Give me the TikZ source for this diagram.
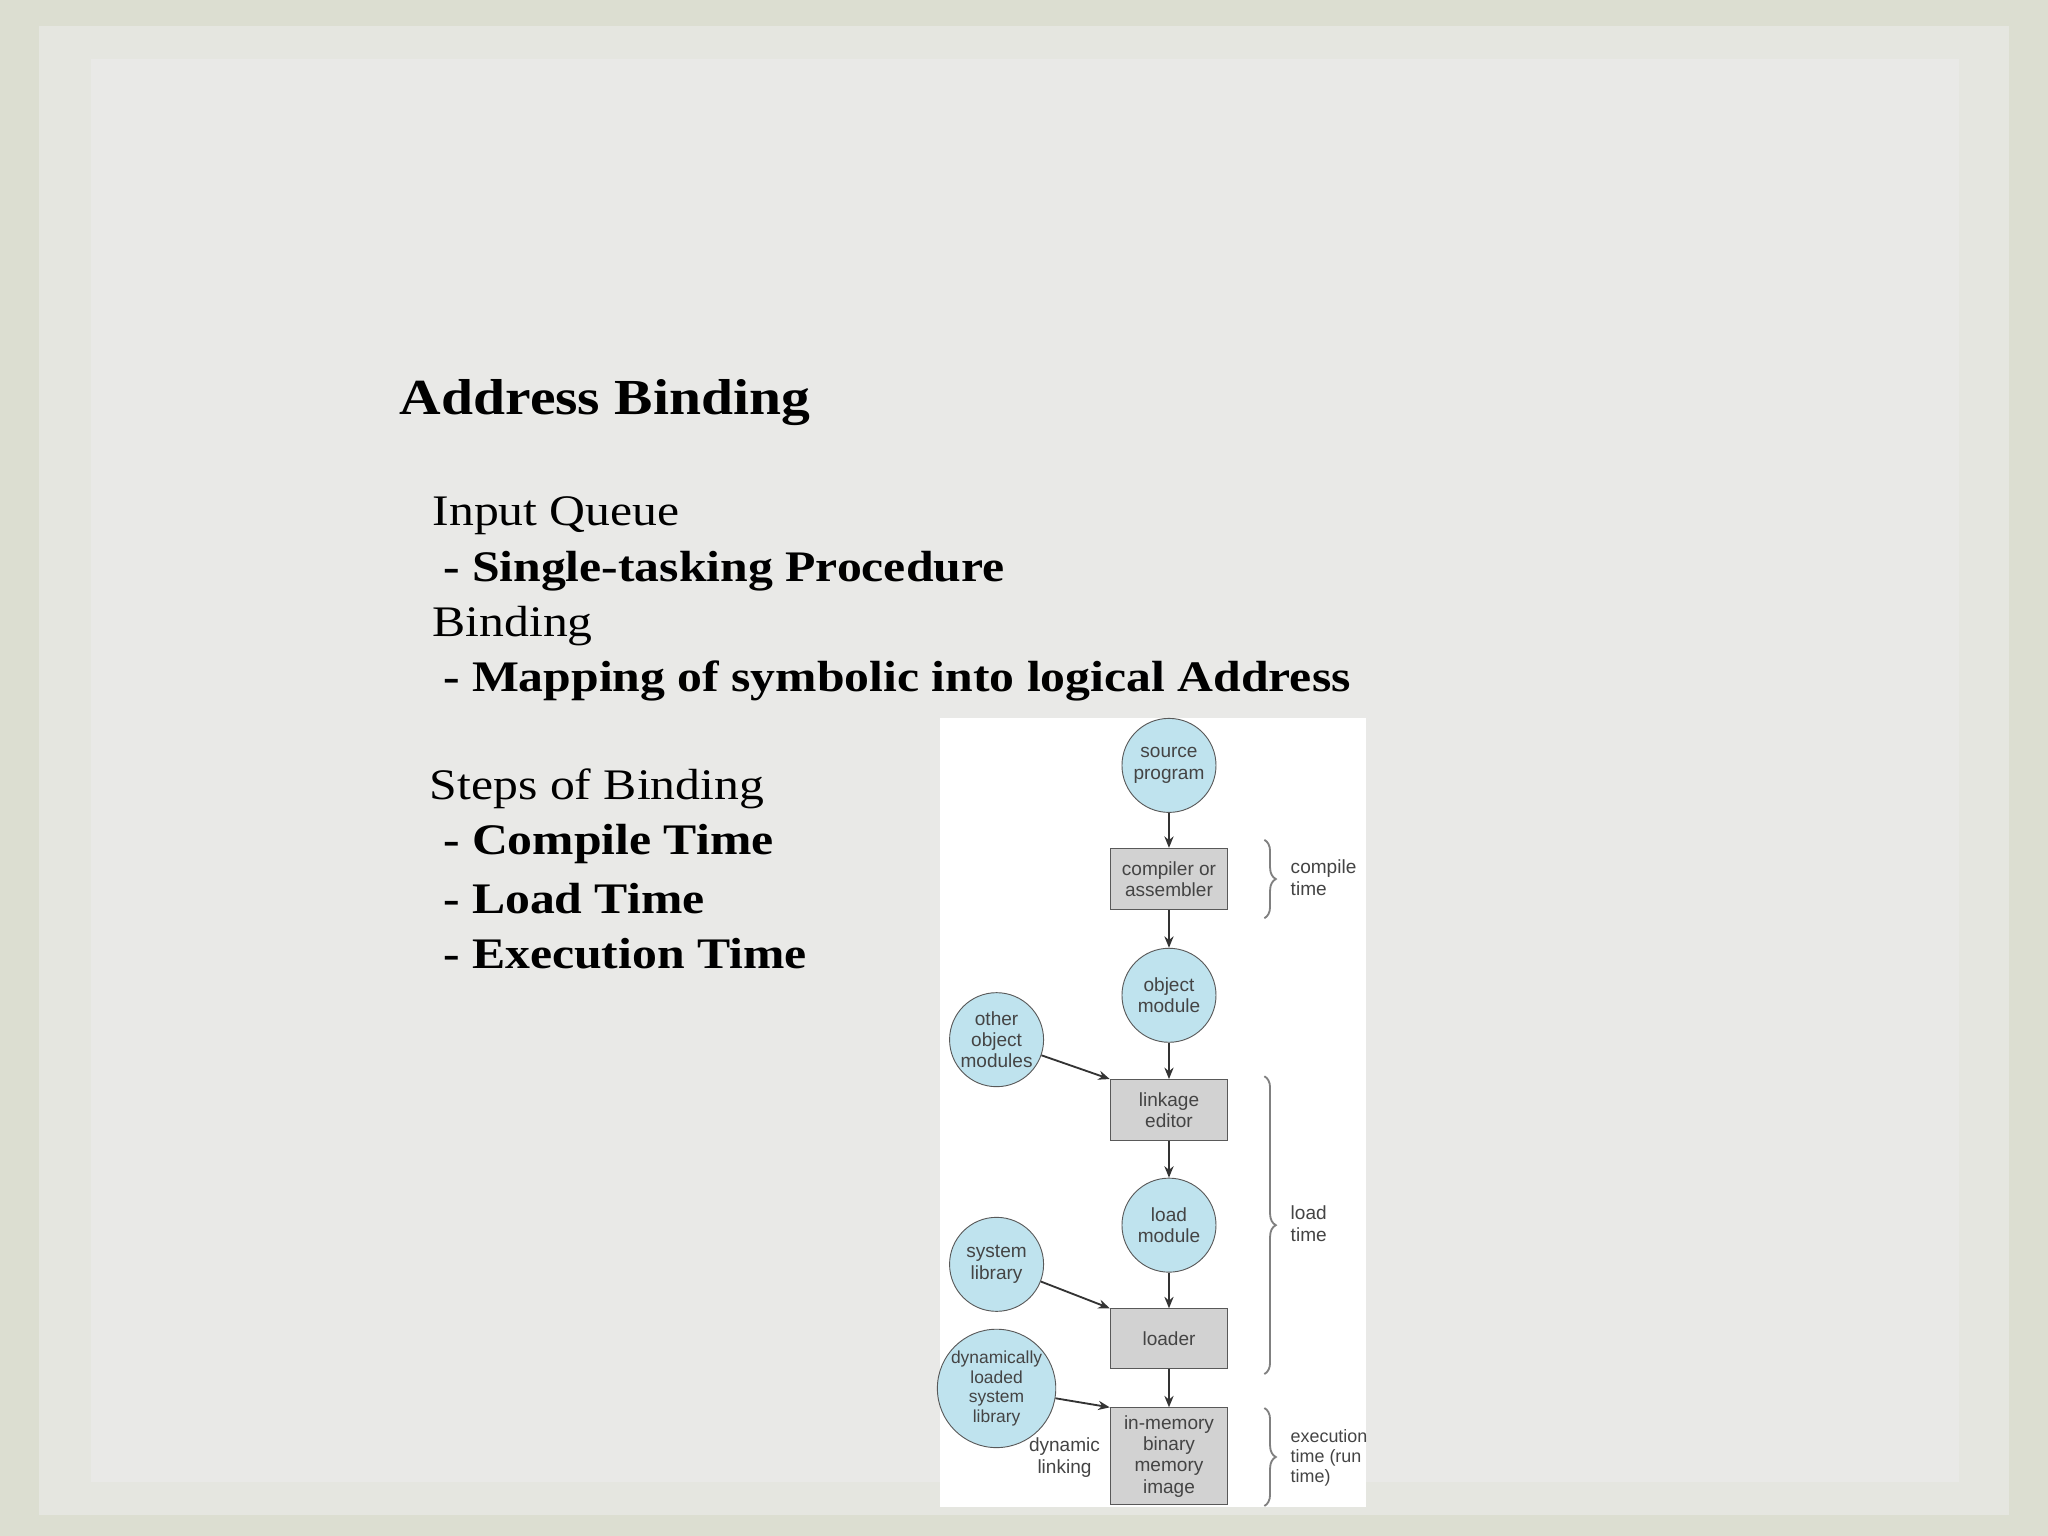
\documentclass[tikz,border=0pt]{standalone}
\usepackage{fontspec}
\setmainfont{Liberation Serif}[FakeStretch=1.14]
\setsansfont{Liberation Sans}
\usetikzlibrary{arrows.meta,decorations.pathreplacing}
\definecolor{bgc}{HTML}{E9E9E7}
\definecolor{edgec}{HTML}{DCDED1}
\definecolor{cfill}{HTML}{BFE3EE}
\definecolor{bfill}{HTML}{D2D2D2}
\definecolor{dtext}{HTML}{444444}
\tikzset{
  x=0.02cm,y=-0.02cm,
  title/.style={anchor=west,font=\fontsize{22}{25}\selectfont\bfseries},
  body/.style={anchor=west,font=\fontsize{19}{22}\selectfont},
  bodyb/.style={anchor=west,font=\fontsize{19}{22}\selectfont\bfseries},
  circ/.style={circle,draw=gray!70!black,fill=cfill,minimum size=1.44cm,inner sep=0pt,align=center,font=\sffamily\fontsize{8.3}{9.3}\selectfont,text=dtext},
  boxn/.style={rectangle,draw=gray!70!black,fill=bfill,minimum width=1.8cm,align=center,font=\sffamily\fontsize{8.3}{9.3}\selectfont,text=dtext},
  lbl/.style={anchor=west,align=left,font=\sffamily\fontsize{8.3}{9.3}\selectfont,text=dtext},
  arr/.style={-{Stealth[length=5pt,width=4pt]},thick,draw=black!80},
  brc/.style={decorate,decoration={brace,amplitude=5pt},draw=gray,thick}
}
\begin{document}
\begin{tikzpicture}
\fill[edgec] (0,0) rectangle (1568,1176);
\fill[bgc] (30,20) rectangle (1538,1160);
\fill[bgc!70!edgec] (30,20) rectangle (1538,1160);
\fill[bgc] (70,45) rectangle (1500,1135);
\useasboundingbox (0,0) rectangle (1568,1176);
\node[title] (t) at (300,308) {Address Binding};
\node[body] (l1) at (325,395) {Input Queue};
\node[bodyb] (l2) at (333,437) {- Single-tasking Procedure};
\node[body] (l3) at (325,479) {Binding};
\node[bodyb] (l4) at (333,521) {- Mapping of symbolic into logical Address};
\node[body] (l5) at (323,604) {Steps of Binding};
\node[bodyb] (l6) at (333,646) {- Compile Time};
\node[bodyb] (l7) at (333,688) {- Load Time};
\node[bodyb] (l8) at (333,730) {- Execution Time};
\fill[white] (720,550) rectangle (1046,1154);
\node[circ] (src) at (895,586) {source\\program};
\node[boxn,minimum height=0.94cm] (comp) at (895,673) {compiler or\\assembler};
\node[circ] (obj) at (895,762) {object\\module};
\node[circ] (oth) at (763,796) {other\\object\\modules};
\node[boxn,minimum height=0.94cm] (link) at (895,850) {linkage\\editor};
\node[circ] (lm) at (895,938) {load\\module};
\node[circ] (sys) at (763,968) {system\\library};
\node[boxn,minimum height=0.92cm] (ldr) at (895,1025) {loader};
\node[circ,minimum size=1.68cm,font=\sffamily\fontsize{7.6}{8.6}\selectfont] (dyn) at (763,1063) {dynamically\\loaded\\system\\library};
\node[boxn,minimum height=1.48cm] (mem) at (895,1115) {in-memory\\binary\\memory\\image};
\node[lbl,align=center,anchor=center] (dl) at (815,1116) {dynamic\\linking};
\draw[arr] (src) -- (comp);
\draw[arr] (comp) -- (obj);
\draw[arr] (obj) -- (link);
\draw[arr] (link) -- (lm);
\draw[arr] (lm) -- (ldr);
\draw[arr] (ldr) -- (mem);
\draw[arr] (oth) -- (link.north west);
\draw[arr] (sys) -- (ldr.north west);
\draw[arr] (dyn) -- (mem.north west);
\coordinate (c1) at (968,643); \coordinate (c2) at (968,703);
\coordinate (c3) at (968,824); \coordinate (c4) at (968,1052);
\coordinate (c5) at (968,1078); \coordinate (c6) at (968,1153);
\draw[brc] (c1) -- (c2);
\draw[brc] (c3) -- (c4);
\draw[brc] (c5) -- (c6);
\node[lbl] (ct) at (982,672) {compile\\time};
\node[lbl] (lt) at (982,937) {load\\time};
\node[lbl,font=\sffamily\fontsize{7.8}{8.8}\selectfont] (et) at (982,1116) {execution\\time (run\\time)};
\end{tikzpicture}
\end{document}
